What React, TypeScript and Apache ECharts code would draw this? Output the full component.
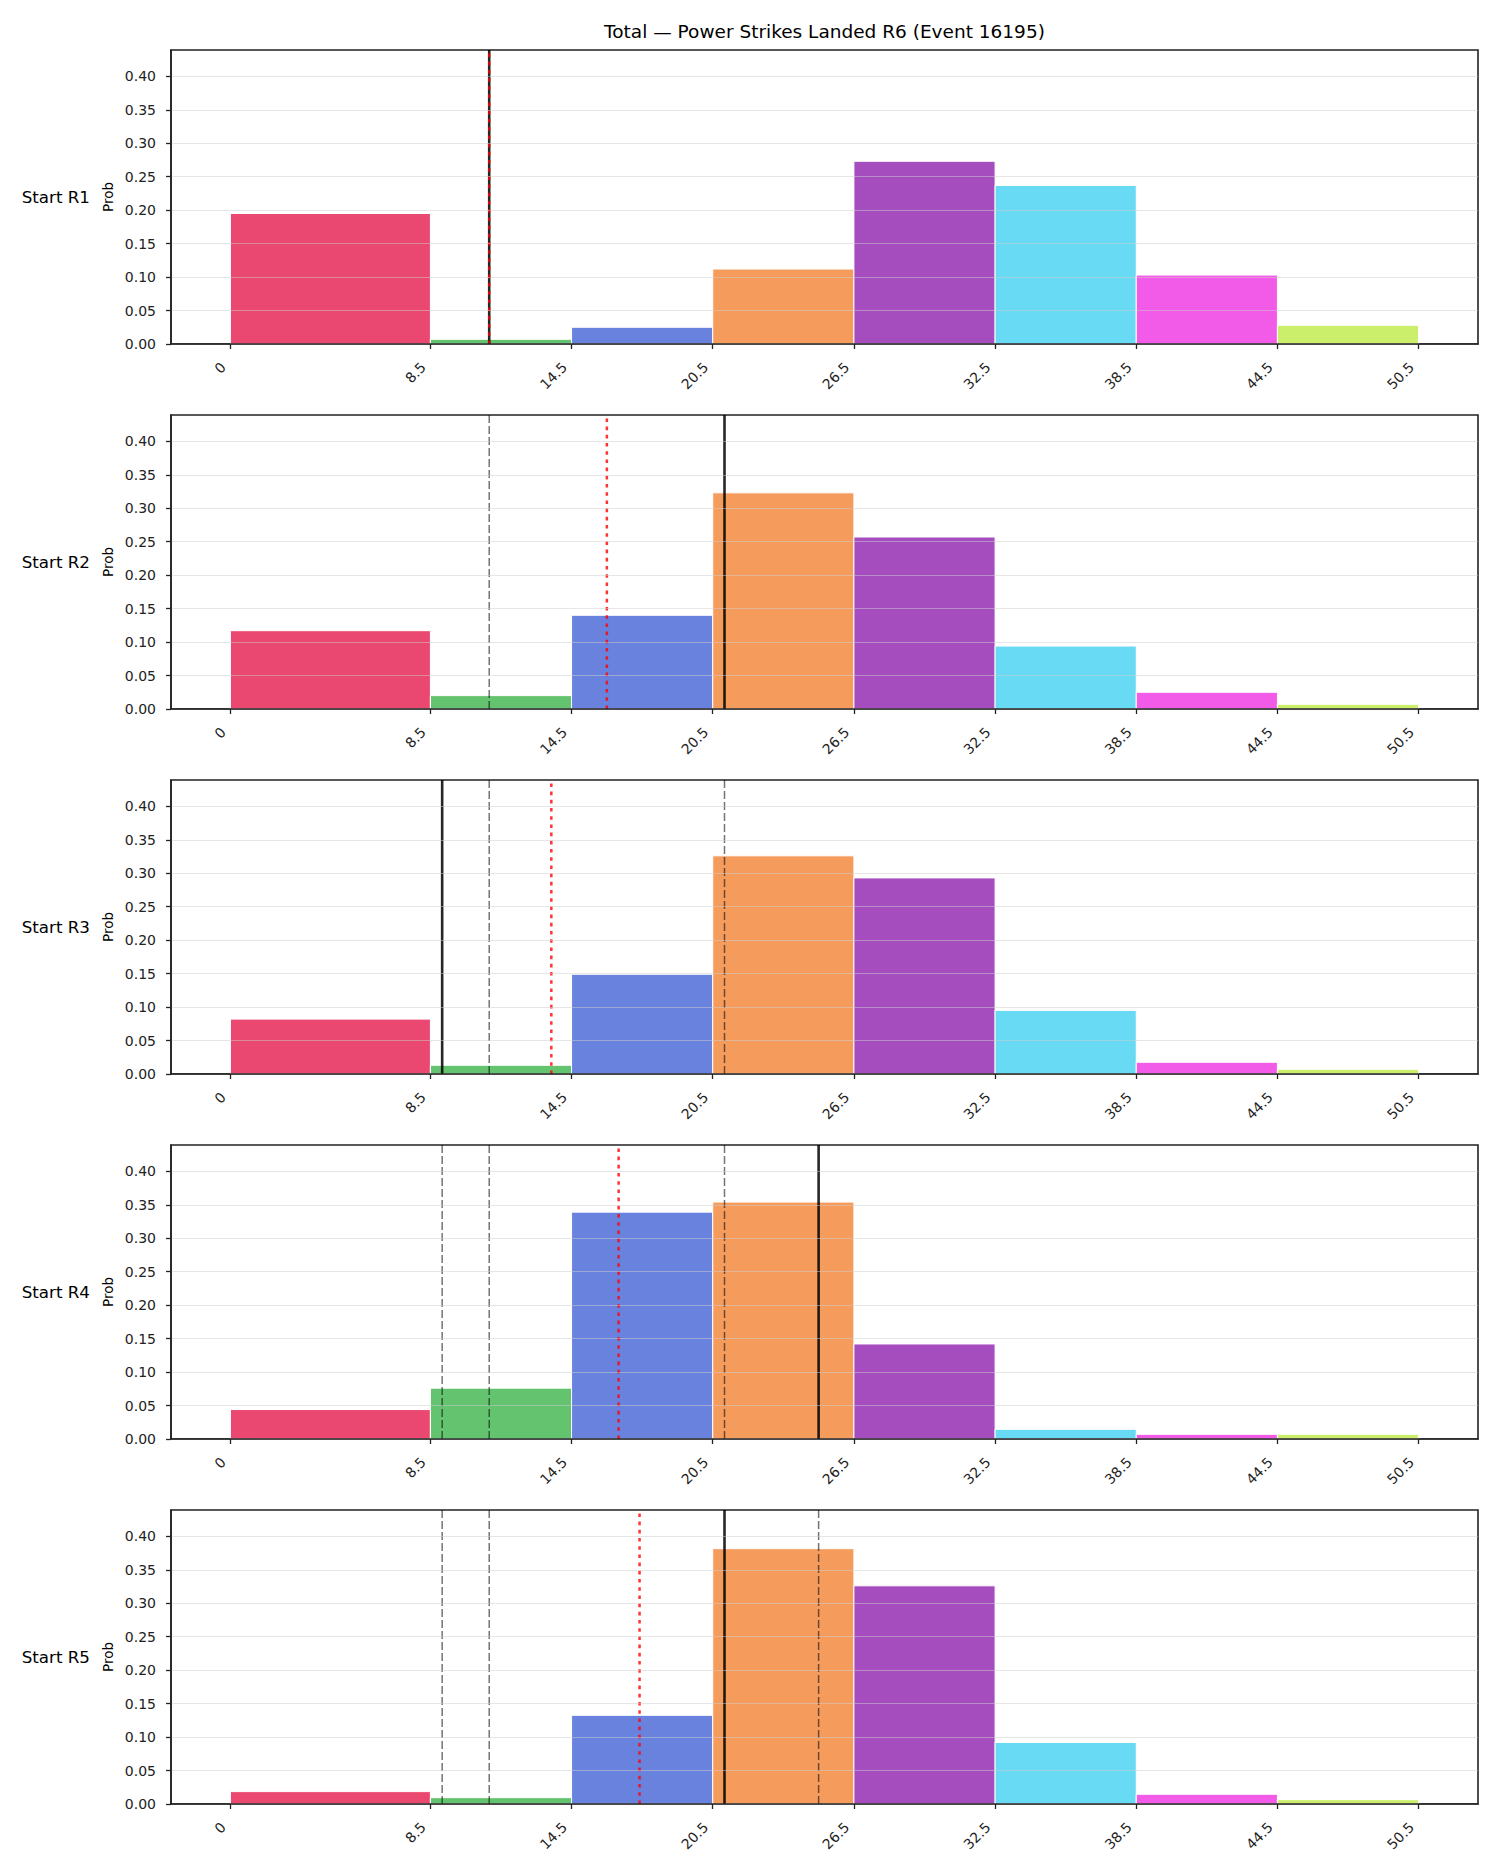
import { useEffect, useRef } from 'react';
import * as echarts from 'echarts';

// Bin edges of the histogram (strike counts) and the colour of each bin
const BIN_EDGES = [0, 8.5, 14.5, 20.5, 26.5, 32.5, 38.5, 44.5, 50.5];
const BIN_COLORS = ['#EA4870', '#64C36E', '#6982DE', '#F59C5D', '#A54CBF', '#68DAF4', '#F25BE8', '#CBEF6A'];

const ROW_LABELS = ['Start R1', 'Start R2', 'Start R3', 'Start R4', 'Start R5'];

// Probability of each bin, per starting round
const PROBS_R1 = [0.195, 0.007, 0.025, 0.112, 0.273, 0.237, 0.103, 0.028];
const PROBS_R2 = [0.117, 0.020, 0.140, 0.323, 0.257, 0.094, 0.025, 0.007];
const PROBS_R3 = [0.082, 0.013, 0.149, 0.326, 0.293, 0.095, 0.0175, 0.007];
const PROBS_R4 = [0.044, 0.076, 0.339, 0.354, 0.142, 0.0145, 0.007, 0.007];
const PROBS_R5 = [0.0185, 0.0095, 0.1325, 0.3815, 0.326, 0.092, 0.0145, 0.0065];
const ROW_PROBS = [PROBS_R1, PROBS_R2, PROBS_R3, PROBS_R4, PROBS_R5];

// Reference lines: current line (solid), expected value (dotted), earlier lines (dashed)
const CURRENT_LINE = [11, 21, 9, 25, 21];
const MEAN_LINE = [11, 16.0, 13.64, 16.5, 17.39];
const PRIOR_LINES = [[], [11], [11, 21], [9, 11, 21], [9, 11, 25]];

const X_TICKS = [0, 8.5, 14.5, 20.5, 26.5, 32.5, 38.5, 44.5, 50.5];
const Y_TICKS = [0, 0.05, 0.1, 0.15, 0.2, 0.25, 0.3, 0.35, 0.4];
const Y_MAX = 0.4393;
const X_MIN = -2.525;
const X_MAX = 53.025;

const TITLE = 'Total — Power Strikes Landed R6 (Event 16195)';

const FONT = '"DejaVu Sans", sans-serif';
const GRID_LEFT = 171;
const GRID_RIGHT = 22;
const PANEL_TOP = 50;
const PANEL_STEP = 365;
const PANEL_H = 294;

export default function App() {
  const ref = useRef<HTMLDivElement>(null);

  useEffect(() => {
    if (!ref.current) return;
    const chart = echarts.init(ref.current, undefined, { renderer: 'svg' });

    const grids: any[] = [];
    const xAxes: any[] = [];
    const yAxes: any[] = [];
    const series: any[] = [];
    const graphics: any[] = [];

    graphics.push({
      type: 'text',
      x: GRID_LEFT + (1500 - GRID_LEFT - GRID_RIGHT) / 2,
      y: 31,
      style: { text: TITLE, fill: '#000', font: `18.5px ${FONT}`, align: 'center', verticalAlign: 'middle' },
    });

    ROW_PROBS.forEach((probs, i) => {
      const top = PANEL_TOP + i * PANEL_STEP;
      grids.push({
        left: GRID_LEFT,
        right: GRID_RIGHT,
        top,
        height: PANEL_H,
        show: true,
        borderColor: '#222',
        borderWidth: 1.6,
        backgroundColor: 'transparent',
      });
      xAxes.push({
        type: 'value',
        gridIndex: i,
        min: X_MIN,
        max: X_MAX,
        z: 5,
        axisLine: { show: true, onZero: false, lineStyle: { color: '#222', width: 1.6 } },
        axisTick: { show: true, length: 5, customValues: X_TICKS, lineStyle: { color: '#222', width: 1.3 } },
        axisLabel: {
          customValues: X_TICKS,
          rotate: 45,
          margin: 13.6,
          padding: [0, 10, 0, 0],
          color: '#222',
          fontFamily: FONT,
          fontSize: 14,
          formatter: (v: number) => String(v),
        },
        splitLine: { show: false },
      });
      yAxes.push({
        type: 'value',
        gridIndex: i,
        min: 0,
        max: Y_MAX,
        interval: 0.05,
        z: 5,
        axisLine: { show: true, onZero: false, lineStyle: { color: '#222', width: 1.6 } },
        axisTick: { show: true, length: 5, customValues: Y_TICKS, lineStyle: { color: '#222', width: 1.3 } },
        axisLabel: {
          customValues: Y_TICKS,
          margin: 15,
          color: '#222',
          fontFamily: FONT,
          fontSize: 14,
          formatter: (v: number) => v.toFixed(2),
        },
        splitLine: { show: true, lineStyle: { color: 'rgba(205,205,205,0.5)', width: 1.2 } },
      });

      const rows = probs.map((p, k) => [BIN_EDGES[k], BIN_EDGES[k + 1], p]);
      series.push({
        type: 'custom',
        xAxisIndex: i,
        yAxisIndex: i,
        data: rows,
        encode: { x: [0, 1], y: 2 },
        renderItem: (params: any, api: any) => {
          const x0 = api.value(0);
          const x1 = api.value(1);
          const y = api.value(2);
          const a = api.coord([x0, y]);
          const b = api.coord([x1, 0]);
          return {
            type: 'rect',
            shape: { x: a[0], y: a[1], width: b[0] - a[0], height: b[1] - a[1] },
            style: { fill: BIN_COLORS[params.dataIndex], stroke: '#ffffff', lineWidth: 1 },
          };
        },
      });

      const vline = (x: number, lineStyle: any) => ({
        type: 'line',
        xAxisIndex: i,
        yAxisIndex: i,
        data: [[x, 0], [x, Y_MAX]],
        symbol: 'none',
        silent: true,
        lineStyle,
      });

      PRIOR_LINES[i].forEach((x) => {
        series.push(vline(x, { color: 'rgba(0,0,0,0.55)', width: 1.5, type: [8, 3] }));
      });
      series.push(vline(CURRENT_LINE[i], { color: 'rgba(0,0,0,0.85)', width: 2.6, type: 'solid' }));
      series.push(vline(MEAN_LINE[i], { color: 'rgba(255,0,0,0.8)', width: 2.5, type: [3.6, 4.6] }));

      graphics.push({
        type: 'text',
        x: 90,
        y: top + PANEL_H / 2,
        style: { text: ROW_LABELS[i], fill: '#000', font: `16.7px ${FONT}`, align: 'right', verticalAlign: 'middle' },
      });
      graphics.push({
        type: 'text',
        x: 107.7,
        y: top + PANEL_H / 2,
        rotation: Math.PI / 2,
        style: { text: 'Prob', fill: '#000', font: `13.5px ${FONT}`, align: 'center', verticalAlign: 'middle' },
      });
    });

    chart.setOption({
      animation: false,
      backgroundColor: '#ffffff',
      grid: grids,
      xAxis: xAxes,
      yAxis: yAxes,
      series,
      graphic: graphics,
    });

    return () => chart.dispose();
  }, []);

  return <div ref={ref} style={{ position: 'absolute', left: 0, top: 0, width: 1500, height: 1875 }} />;
}
